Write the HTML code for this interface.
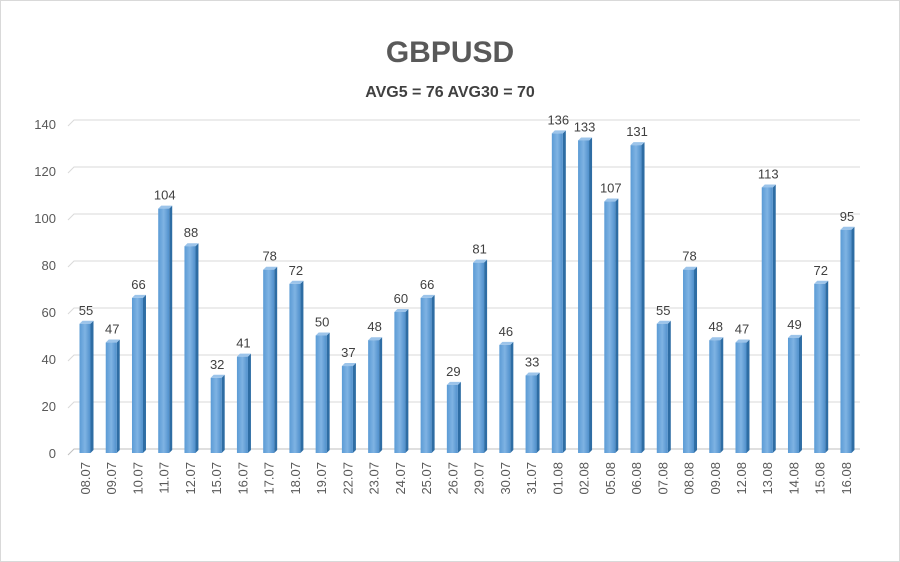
<!DOCTYPE html>
<html><head><meta charset="utf-8"><style>
html,body{margin:0;padding:0;background:#fff}
svg{display:block;font-family:"Liberation Sans",sans-serif}
</style></head><body>
<svg id="c" width="900" height="562" viewBox="0 0 900 562">
<defs>
<linearGradient id="g" x1="0" x2="1" y1="0" y2="0"><stop offset="0" stop-color="#5b9bd5"/><stop offset="0.5" stop-color="#7fb3e3"/><stop offset="1" stop-color="#5090cc"/></linearGradient>
</defs>
<rect x="0.5" y="0.5" width="899" height="561" fill="#fff" stroke="#d9d9d9"/>
<text x="450" y="62" text-anchor="middle" font-size="30" font-weight="bold" fill="#595959">GBPUSD</text>
<text x="450" y="97" text-anchor="middle" font-size="16" font-weight="bold" fill="#404040">AVG5 = 76 AVG30 = 70</text>
<g id="grid"></g><g id="bars"></g><g id="labels"></g>
</svg>
<script>
const categories=["08.07","09.07","10.07","11.07","12.07","15.07","16.07","17.07","18.07","19.07","22.07","23.07","24.07","25.07","26.07","29.07","30.07","31.07","01.08","02.08","05.08","06.08","07.08","08.08","09.08","12.08","13.08","14.08","15.08","16.08"];
const values=[55,47,66,104,88,32,41,78,72,50,37,48,60,66,29,81,46,33,136,133,107,131,55,78,48,47,113,49,72,95];
const ticks=[0,20,40,60,80,100,120,140];
const NS="http://www.w3.org/2000/svg";
const y0=453,ppu=2.35,x0=85,step=26.24;
const y=v=>y0-v*ppu, x=i=>x0+i*step;
function mk(t,a,p){const e=document.createElementNS(NS,t);for(const k in a)e.setAttribute(k,a[k]);p.appendChild(e);return e;}
const grid=document.getElementById('grid'),bars=document.getElementById('bars'),labels=document.getElementById('labels');
ticks.forEach(t=>{
  const yy=y(t);
  const l=mk('polyline',{points:`68,${yy+2} 74,${yy-4} 860,${yy-4}`,fill:'none',stroke:t===0?'#bfbfbf':'#d9d9d9','stroke-width':1},grid);
  
  
  const tx=mk('text',{x:56,y:yy+5,'text-anchor':'end','font-size':13,fill:'#595959'},grid);
  tx.textContent=t;
  
  
});
values.forEach((v,i)=>{
  const cx=x(i),top=y(v),w=11,d=3;
  const g=mk('g',{},bars);
  
  
  mk('polygon',{points:`${cx+w/2},${top} ${cx+w/2+d},${top-3} ${cx+w/2+d},${y0-3} ${cx+w/2},${y0}`,fill:'#2e6da4'},g);
  mk('polygon',{points:`${cx-w/2},${top} ${cx-w/2+d},${top-3} ${cx+w/2+d},${top-3} ${cx+w/2},${top}`,fill:'#9cc4ea'},g);
  mk('rect',{x:cx-w/2,y:top,width:w,height:y0-top,fill:'url(#g)'},g);
  const vl=mk('text',{x:cx+1,y:top-9,'text-anchor':'middle','font-size':13,fill:'#404040'},labels);
  vl.textContent=v;
  
  
  const cl=mk('text',{x:0,y:0,'text-anchor':'end','font-size':13,fill:'#595959',transform:`translate(${cx+5},462) rotate(-90)`},labels);
  cl.textContent=categories[i];
  
  
});
</script>
</body></html>
